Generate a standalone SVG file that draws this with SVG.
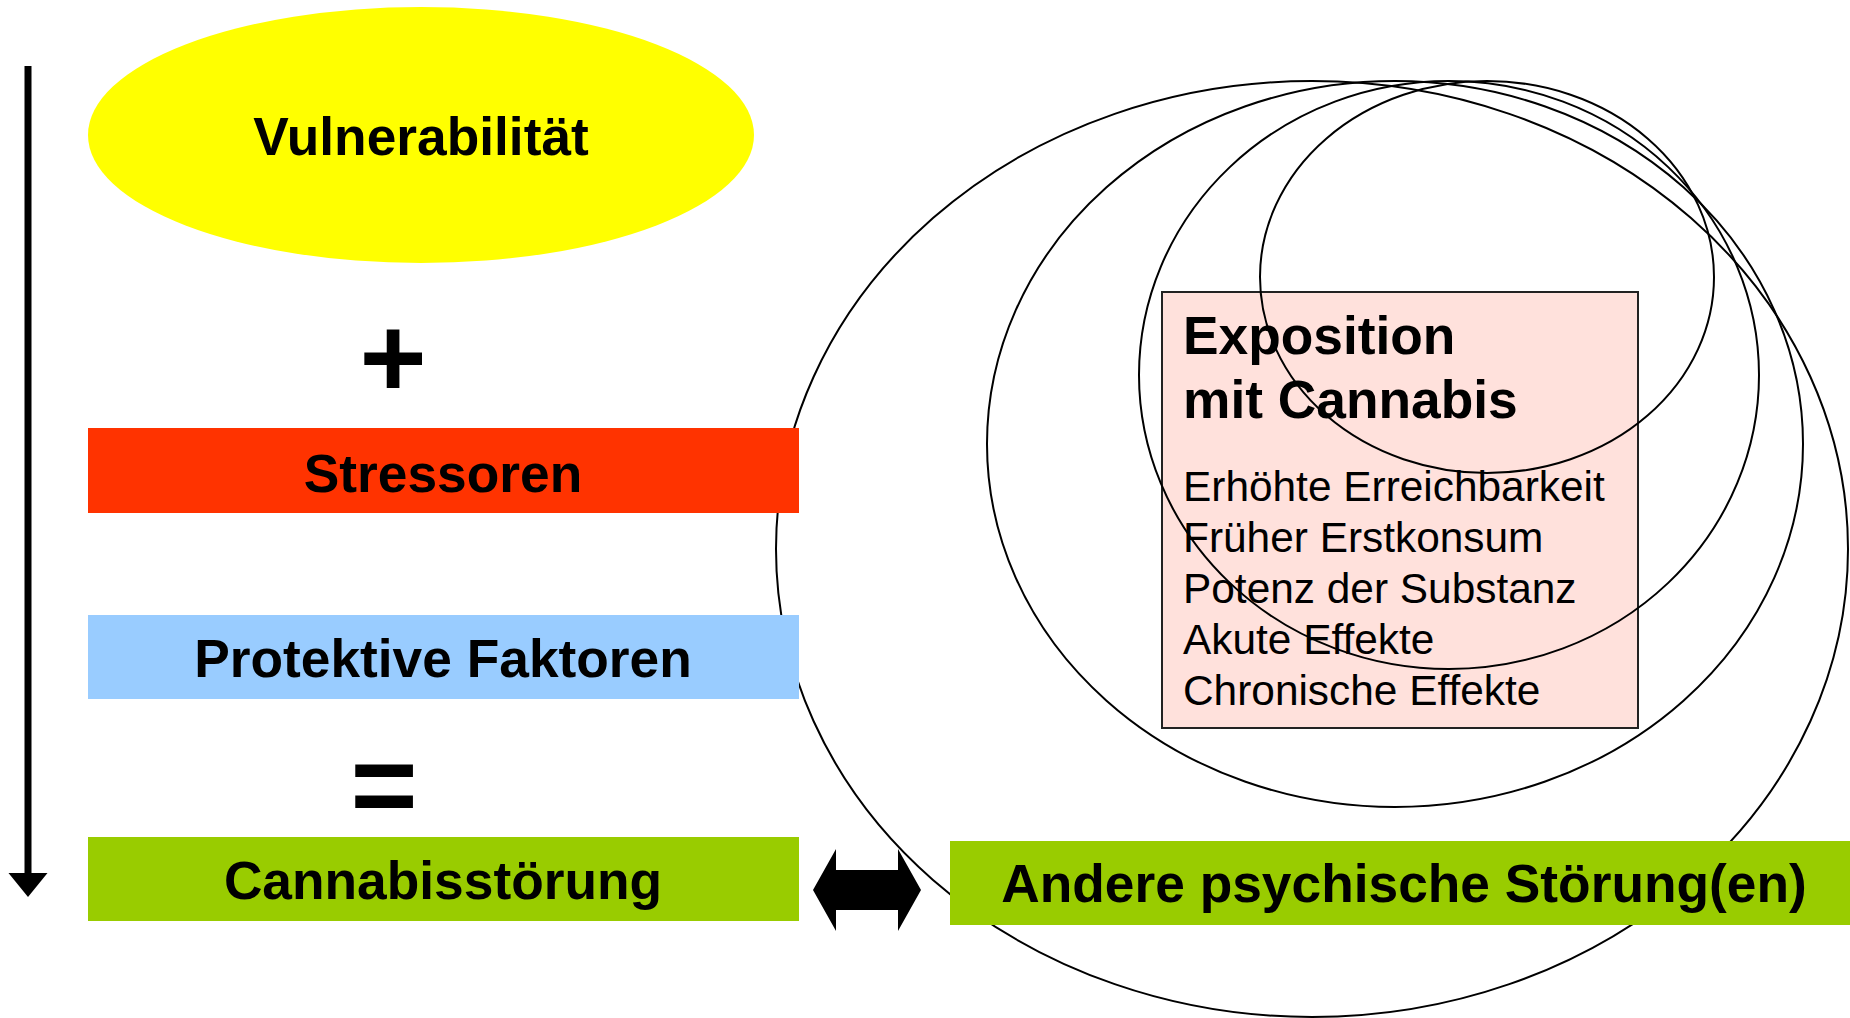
<svg xmlns="http://www.w3.org/2000/svg" width="1850" height="1018" viewBox="0 0 1850 1018">
  <defs>
    <style>
      .lbl { font-family: "Liberation Sans", Arial, sans-serif; font-weight: bold; font-size: 53.3px; fill: #000; text-anchor: middle; }
      .op { font-family: "Liberation Sans", Arial, sans-serif; font-weight: bold; font-size: 115px; fill: #000; text-anchor: middle; }
      .item { font-family: "Liberation Sans", Arial, sans-serif; font-size: 42.4px; fill: #000; }
      .ring { fill: none; stroke: #000; stroke-width: 2; }
      .bar { stroke: none; }
    </style>
  </defs>

  <rect x="0" y="0" width="1850" height="1018" fill="#fff"/>

  <!-- Exposure box (behind the nested rings) -->
  <g id="exposition">
    <rect x="1162" y="292" width="476" height="436" fill="#FFE1DC" stroke="#222" stroke-width="2"/>
  </g>

  <!-- Nested rings -->
  <g id="rings">
    <ellipse class="ring" cx="1312" cy="549" rx="536" ry="468"/>
    <ellipse class="ring" cx="1395" cy="444" rx="408" ry="363"/>
    <ellipse class="ring" cx="1449" cy="375" rx="310" ry="294"/>
    <ellipse class="ring" cx="1487" cy="277" rx="227" ry="196"/>
  </g>

  <g id="exposition-text">
    <text class="lbl" x="1183" y="354" style="text-anchor:start">Exposition</text>
    <text class="lbl" x="1183" y="418" style="text-anchor:start">mit Cannabis</text>
    <text class="item" x="1183" y="501">Erhöhte Erreichbarkeit</text>
    <text class="item" x="1183" y="552">Früher Erstkonsum</text>
    <text class="item" x="1183" y="603">Potenz der Substanz</text>
    <text class="item" x="1183" y="654">Akute Effekte</text>
    <text class="item" x="1183" y="705">Chronische Effekte</text>
  </g>

  <g id="vulnerabilitaet">
    <ellipse cx="421" cy="135" rx="333" ry="128" fill="#FFFF00"/>
    <text class="lbl" x="421" y="155">Vulnerabilität</text>
  </g>

  <g id="plus">
    <text class="op" x="393" y="397">+</text>
  </g>

  <g id="stressoren">
    <rect class="bar" x="88" y="428" width="711" height="85" fill="#FF3300"/>
    <text class="lbl" x="443" y="492">Stressoren</text>
  </g>

  <g id="protektive-faktoren">
    <rect class="bar" x="88" y="615" width="711" height="84" fill="#99CCFF"/>
    <text class="lbl" x="443" y="677">Protektive Faktoren</text>
  </g>

  <g id="equals">
    <text class="op" x="384" y="824">=</text>
  </g>

  <g id="cannabisstoerung">
    <rect class="bar" x="88" y="837" width="711" height="84" fill="#99CC00"/>
    <text class="lbl" x="443" y="899">Cannabisstörung</text>
  </g>

  <g id="andere-stoerungen">
    <rect class="bar" x="950" y="841" width="900" height="84" fill="#99CC00"/>
    <text class="lbl" x="1404" y="902">Andere psychische Störung(en)</text>
  </g>

  <!-- Connectors -->
  <g id="connectors">
    <line x1="28" y1="66" x2="28" y2="874" stroke="#000" stroke-width="7"/>
    <polygon points="8.5,873 47.5,873 28,897" fill="#000"/>
    <polygon points="813,890 836,849 836,870 898,870 898,849 921,890 898,931 898,910 836,910 836,931" fill="#000"/>
  </g>
</svg>
